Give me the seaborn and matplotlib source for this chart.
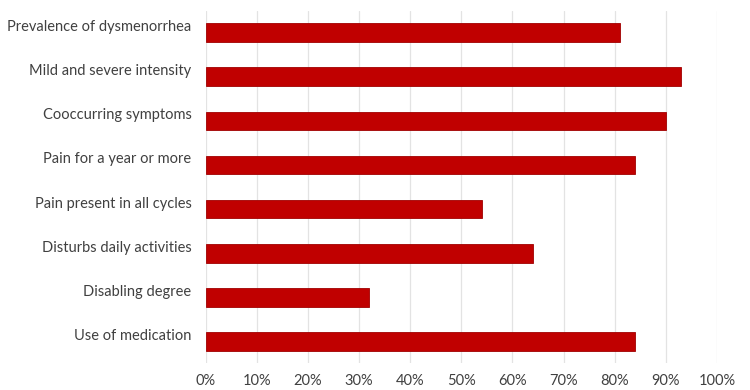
import matplotlib
matplotlib.use("Agg")
import matplotlib.pyplot as plt
import matplotlib.transforms as mtransforms
from matplotlib.ticker import PercentFormatter
import seaborn as sns
import pandas as pd

categories = [
    "Prevalence of dysmenorrhea",
    "Mild and severe intensity",
    "Cooccurring symptoms",
    "Pain for a year or more",
    "Pain present in all cycles",
    "Disturbs daily activities",
    "Disabling degree",
    "Use of medication",
]
values = [81, 93, 90, 84, 54, 64, 32, 84]
x_ticks = [0, 10, 20, 30, 40, 50, 60, 70, 80, 90, 100]

df = pd.DataFrame({"category": categories, "value": values})

sns.set_theme(style="white")
plt.rcParams["font.family"] = ["Lato", "DejaVu Sans"]

fig = plt.figure(figsize=(7.5, 3.9), dpi=100)
ax = fig.add_axes([0.274, 0.069, 0.682, 0.903])

sns.barplot(data=df, x="value", y="category", orient="h", color="#C00000",
            saturation=1, width=0.43, edgecolor="#A00000", linewidth=0.6, ax=ax)

ax.set_xlim(0, 100)
ax.set_ylim(7.5, -0.5)
ax.set_xticks(x_ticks)
ax.xaxis.set_major_formatter(PercentFormatter(decimals=0))
ax.set_xlabel("")
ax.set_ylabel("")
ax.grid(axis="x", color="#e3e3e3", linewidth=0.9)
ax.grid(axis="y", visible=False)
ax.set_axisbelow(True)
for s in ax.spines.values():
    s.set_visible(False)
ax.tick_params(axis="both", length=0, colors="#404040", labelsize=10.5)
ax.tick_params(axis="y", pad=10)
ax.tick_params(axis="x", pad=8)

offset = mtransforms.ScaledTranslation(0, 7 / 100, fig.dpi_scale_trans)
for lab in ax.get_yticklabels():
    lab.set_transform(lab.get_transform() + offset)

fig.savefig("out.png", dpi=100, facecolor="white")
